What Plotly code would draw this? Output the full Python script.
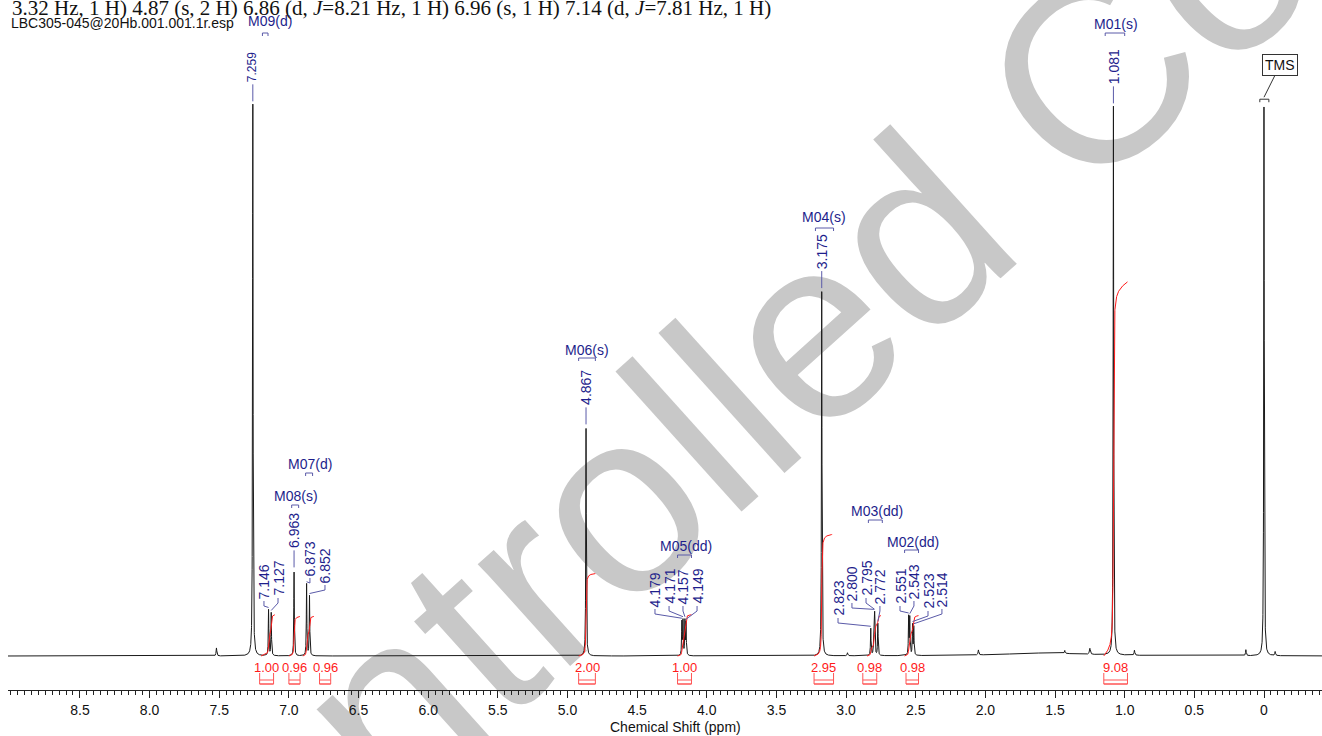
import numpy as np
import plotly.graph_objects as go

# ---------------- data ----------------
peak_ppm = [7.259, 7.146, 7.127, 6.963, 6.873, 6.852, 4.867,
            4.179, 4.171, 4.157, 4.149, 3.175,
            2.823, 2.800, 2.795, 2.772, 2.551, 2.543, 2.523, 2.514,
            1.081, 0.000]
peak_height = [553, 46, 43, 84, 72, 60, 228,
               33, 34, 34, 32, 365,
               27, 38, 38, 32, 38, 37, 30, 28,
               550, 550]
LINE_HWHM = 0.0022

minor_ppm = [7.52, 2.99, 2.05, 1.58, 1.43, 1.25, 0.93, 0.13, -0.08]
minor_height = [8, 3, 5, 3, 3, 6, 5, 6, 4]
minor_hwhm = [0.003, 0.003, 0.003, 0.35, 0.003, 0.004, 0.003, 0.003, 0.003]

integral_from = [7.20, 7.00, 6.90, 4.92, 4.21, 3.23, 2.85, 2.58, 1.15]
integral_to = [7.10, 6.92, 6.82, 4.80, 4.11, 3.10, 2.75, 2.48, 0.98]
integral_value = [1.00, 0.96, 0.96, 2.00, 1.00, 2.95, 0.98, 0.98, 9.08]
integral_mark_from = [7.21, 7.00, 6.78, 4.92, 4.21, 3.23, 2.88, 2.57, 1.15]
integral_mark_to = [7.11, 6.92, 6.70, 4.80, 4.11, 3.09, 2.78, 2.48, 0.98]

mult_names = ["M09(d)", "M08(s)", "M07(d)", "M06(s)", "M05(dd)", "M04(s)",
              "M03(dd)", "M02(dd)", "M01(s)"]
mult_from = [7.19, 6.98, 6.88, 4.92, 4.21, 3.22, 2.84, 2.58, 1.14]
mult_to = [7.15, 6.93, 6.83, 4.80, 4.11, 3.09, 2.74, 2.48, 1.00]

tick_vals = [8.5, 8.0, 7.5, 7.0, 6.5, 6.0, 5.5, 5.0, 4.5, 4.0, 3.5, 3.0,
             2.5, 2.0, 1.5, 1.0, 0.5, 0.0]
tick_text = ["8.5", "8.0", "7.5", "7.0", "6.5", "6.0", "5.5", "5.0", "4.5",
             "4.0", "3.5", "3.0", "2.5", "2.0", "1.5", "1.0", "0.5", "0"]

header_text = ("3.32 Hz, 1 H) 4.87 (s, 2 H) 6.86 (d, <i>J</i>=8.21 Hz, 1 H) "
               "6.96 (s, 1 H) 7.14 (d, <i>J</i>=7.81 Hz, 1 H)")
file_text = "LBC305-045@20Hb.001.001.1r.esp"
watermark_text = "Controlled Copy"

# ---------------- layout helpers (positions) ----------------
W, H = 1322, 736
ML, MR, MT, MB = 8, 0, 0, 46
X_LEFT, X_RIGHT = 9.0165, -0.4164
Y_LOW, Y_HIGH = -34, 656
INTEGRAL_SCALE = 41.2

# label placement for grouped peak labels: x (ppm) of text and text bottom (data y)
label_pos = {
    7.146: (7.179, 56), 7.127: (7.078, 59),
    6.873: (6.849, 79), 6.852: (6.741, 72),
    4.179: (4.372, 48), 4.171: (4.271, 51), 4.157: (4.171, 51), 4.149: (4.070, 51),
    2.823: (3.058, 39), 2.800: (2.958, 54), 2.795: (2.857, 59), 2.772: (2.757, 51),
    2.551: (2.613, 51), 2.543: (2.513, 56), 2.523: (2.412, 46), 2.514: (2.312, 48),
}
label_font = {7.259: 12}
mult_label_x = [7.136, 6.949, 6.849, 4.860, 4.149, 3.159, 2.778, 2.520, 1.062]
mult_label_y = [635, 160, 192, 306, 110, 439, 145, 114, 632]
mult_bracket_y = [623, 151, 183, 298, 101, 428, 136, 106, 623]

BLUE = "#1e1e8c"
BLUE_LINE = "#5a5aa8"
RED = "#ff1a1a"
FONT = "Arial, Liberation Sans, sans-serif"


def px2paper_x(px):
    return (px - ML) / (W - ML - MR)


def py2paper_y(py):
    return (H - MB - py) / (H - MB - MT)


# ---------------- spectrum ----------------
x = np.arange(X_LEFT, X_RIGHT, -0.0004)
spec = np.zeros_like(x)
for p, h in zip(peak_ppm, peak_height):
    spec += h * LINE_HWHM ** 2 / ((x - p) ** 2 + LINE_HWHM ** 2)
for p, h, w in zip(minor_ppm, minor_height, minor_hwhm):
    spec += h * w ** 2 / ((x - p) ** 2 + w ** 2)


def top(p):
    return float(np.interp(p, x[::-1], spec[::-1]))


fig = go.Figure()

fig.add_trace(go.Scatter(x=x, y=spec, mode="lines",
                         line=dict(color="#1a1a1a", width=1),
                         hoverinfo="skip", showlegend=False))

# integral curves
ix, iy = [], []
for a, b, v in zip(integral_from, integral_to, integral_value):
    m = (x <= a) & (x >= b)
    seg = spec[m]
    cum = np.cumsum(seg)
    cum = cum / cum[-1] * v * INTEGRAL_SCALE
    ix += list(x[m]) + [None]
    iy += list(cum) + [None]
fig.add_trace(go.Scatter(x=ix, y=iy, mode="lines", line=dict(color=RED, width=1),
                         hoverinfo="skip", showlegend=False))

# integral brackets
bx, by = [], []
for a, b in zip(integral_mark_from, integral_mark_to):
    bx += [a, a, b, b, None, a, b, None, a, b, None]
    by += [-17, -28, -28, -17, None, -24, -24, None, -28, -28, None]
fig.add_trace(go.Scatter(x=bx, y=by, mode="lines", line=dict(color="#ff5555", width=1),
                         hoverinfo="skip", showlegend=False))

# peak label connectors
cx, cy = [], []
annotations = []
for p in peak_ppm[:-1]:
    t = top(p)
    if p in label_pos:
        lx, yb = label_pos[p]
        cx += [lx, lx, p, None]
        cy += [yb - 1, yb - 6, t + 2, None]
    else:
        lx, yb = p, t + 23
        cx += [p, p, None]
        cy += [yb - 1, t + 5, None]
    annotations.append(dict(x=lx, y=yb, xref="x", yref="y", text=f"{p:.3f}",
                            textangle=-90, showarrow=False, xanchor="center",
                            yanchor="bottom", borderpad=0,
                            font=dict(family=FONT, size=label_font.get(p, 14), color=BLUE)))

# multiplet brackets
for a, b, yb in zip(mult_from, mult_to, mult_bracket_y):
    cx += [a, a, b, b, None]
    cy += [yb - 3, yb, yb, yb - 3, None]
fig.add_trace(go.Scatter(x=cx, y=cy, mode="lines", line=dict(color=BLUE_LINE, width=1),
                         hoverinfo="skip", showlegend=False))

for name, lx, ly in zip(mult_names, mult_label_x, mult_label_y):
    annotations.append(dict(x=lx, y=ly, xref="x", yref="y", text=name,
                            showarrow=False, xanchor="center", yanchor="middle",
                            font=dict(family=FONT, size=14, color=BLUE)))

# integral values
for a, b, v in zip(integral_mark_from, integral_mark_to, integral_value):
    annotations.append(dict(x=(a + b) / 2, y=-11, xref="x", yref="y", text=f"{v:.2f}",
                            showarrow=False, xanchor="center", yanchor="middle",
                            font=dict(family=FONT, size=13, color=RED)))

# TMS callout
tms_top = top(0.0)
annotations.append(dict(x=0.0, y=tms_top + 12, xref="x", yref="y", text="TMS",
                        showarrow=True, arrowhead=0, arrowwidth=1, arrowcolor="#333",
                        ax=16, ay=-32, bordercolor="#333", borderwidth=1, borderpad=2,
                        bgcolor="white",
                        font=dict(family=FONT, size=14, color="#111")))
fig.add_trace(go.Scatter(x=[0.03, 0.03, -0.035, -0.035],
                         y=[tms_top + 7, tms_top + 10, tms_top + 10, tms_top + 7],
                         mode="lines", line=dict(color="#333", width=1),
                         hoverinfo="skip", showlegend=False))

# header texts
annotations.append(dict(x=px2paper_x(10), y=py2paper_y(8.5), xref="paper", yref="paper",
                        text=header_text, showarrow=False, xanchor="left", yanchor="middle",
                        font=dict(family="Times New Roman, Liberation Serif, serif", size=21,
                                  color="#111")))
annotations.append(dict(x=px2paper_x(9), y=py2paper_y(23.5), xref="paper", yref="paper",
                        text=file_text, showarrow=False, xanchor="left", yanchor="middle",
                        font=dict(family=FONT, size=14, color="#111")))
annotations.append(dict(x=px2paper_x(675), y=py2paper_y(727), xref="paper", yref="paper",
                        text="Chemical Shift (ppm)", showarrow=False, xanchor="center",
                        yanchor="middle", font=dict(family=FONT, size=14, color="#111")))

# watermark (drawn below the traces as a shape label)
wc_x = px2paper_x(765)
wc_y = py2paper_y(337)
shapes = [dict(type="rect", xref="paper", yref="paper", x0=wc_x - 0.3, x1=wc_x + 0.3,
               y0=wc_y - 0.3, y1=wc_y + 0.3, line=dict(width=0),
               fillcolor="rgba(0,0,0,0)", layer="below",
               label=dict(text=watermark_text, textangle=-42,
                          textposition="middle center",
                          font=dict(family=FONT, size=260, color="#c8c8c8")))]

fig.update_layout(
    width=W, height=H,
    margin=dict(l=ML, r=MR, t=MT, b=MB),
    paper_bgcolor="white", plot_bgcolor="white",
    showlegend=False,
    annotations=annotations,
    shapes=shapes,
    xaxis=dict(range=[X_LEFT, X_RIGHT], showgrid=False, zeroline=False,
               showline=True, linecolor="#222", linewidth=1,
               ticks="outside", ticklen=7, tickcolor="#222",
               tickvals=tick_vals, ticktext=tick_text,
               tickfont=dict(family=FONT, size=14, color="#111"),
               minor=dict(dtick=0.05, tick0=0, ticks="outside", ticklen=4,
                          tickcolor="#222", showgrid=False)),
    yaxis=dict(range=[Y_LOW, Y_HIGH], visible=False, showgrid=False, zeroline=False),
)

fig.write_html("out.html", config={"displayModeBar": False},
               post_script="document.body.style.margin='0';document.body.style.overflow='hidden';")
